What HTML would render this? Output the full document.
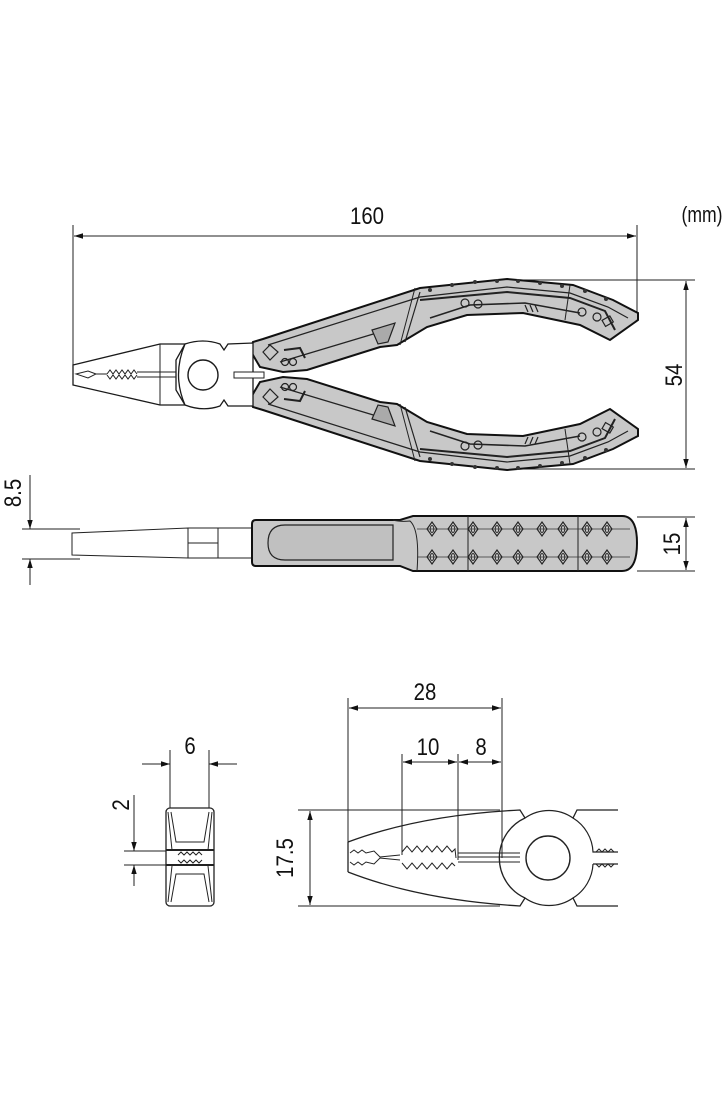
<!DOCTYPE html>
<html><head><meta charset="utf-8"><style>
html,body{margin:0;padding:0;background:#fff}
svg{display:block}
text{font-family:"Liberation Sans",sans-serif;fill:#111}
</style></head><body>
<svg width="728" height="1110" viewBox="0 0 728 1110" xmlns="http://www.w3.org/2000/svg">
<defs>
<marker id="a" viewBox="0 0 10 10" refX="10" refY="5" markerWidth="9" markerHeight="9" orient="auto-start-reverse" markerUnits="userSpaceOnUse"><path d="M0,2 L10,5 L0,8 z" fill="#111"/></marker>
<g id="dia"><path d="M-5,0 L0,-7 L5,0 L0,7 Z" fill="none" stroke="#222" stroke-width="1.1"/><ellipse cx="0" cy="0" rx="1.8" ry="3.5" fill="none" stroke="#222" stroke-width="0.9"/></g>
<g id="hand">
<path d="M253,342 L263,339 L420,288 L507,279 L573,285 L613,300 L638,313 L638,320 L610,340 L580,325 L523,313 L467,315 L427,327 L397,345 L380,347 L307,370 L283,372 L260,367 L250,350 Z" fill="#c8c8c8" stroke="#111" stroke-width="2"/>
<path d="M268,345 L420,297 L507,287 L570,293 L608,307 L628,318" fill="none" stroke="#222" stroke-width="1.2"/>
<path d="M420,300 L507,292 L570,298 L605,311 L615,330" fill="none" stroke="#222" stroke-width="2"/>
<path d="M430,318 L470,305 L525,303 L580,313" fill="none" stroke="#222" stroke-width="1.6"/>
<path d="M280,362 L380,332" fill="none" stroke="#222" stroke-width="1.2"/>
<path d="M372,330 L395,323 L388,342 L378,344 Z" fill="#aaa" stroke="#222" stroke-width="1.2"/>
<line x1="415" y1="288" x2="400" y2="345" stroke="#222" stroke-width="1"/>
<line x1="420" y1="292" x2="405" y2="342" stroke="#222" stroke-width="1.2"/>
<line x1="570" y1="285" x2="565" y2="320" stroke="#222" stroke-width="1"/>
<path d="M263,352 L270,345 L278,352 L270,360 Z" fill="none" stroke="#222" stroke-width="1.2"/>
<circle cx="285" cy="362" r="3.5" fill="none" stroke="#222" stroke-width="1.2"/><circle cx="293" cy="362" r="3.5" fill="none" stroke="#222" stroke-width="1.2"/>
<path d="M284,350 L300,348 L305,358" fill="none" stroke="#222" stroke-width="2"/>
<circle cx="465" cy="303" r="4" fill="none" stroke="#222" stroke-width="1.2"/><circle cx="478" cy="304" r="4" fill="none" stroke="#222" stroke-width="1.2"/>
<circle cx="582" cy="312" r="4" fill="none" stroke="#222" stroke-width="1.2"/><circle cx="597" cy="317" r="4" fill="none" stroke="#222" stroke-width="1.2"/>
<rect x="603" y="318" width="9" height="7" fill="none" stroke="#222" stroke-width="1.2" transform="rotate(-30 607 321)"/>
<path d="M525,305 L528,312 M530,305 L533,312 M535,305 L538,312" stroke="#222" stroke-width="1.2"/>
<g fill="#333"><circle cx="430" cy="290" r="2"/><circle cx="452" cy="285" r="2"/><circle cx="475" cy="282" r="2"/><circle cx="497" cy="281" r="2"/><circle cx="518" cy="281" r="2"/><circle cx="540" cy="283" r="2"/><circle cx="562" cy="286" r="2"/><circle cx="585" cy="291" r="2"/><circle cx="606" cy="299" r="2"/></g>
</g>
</defs>

<!-- 160 dimension -->
<text transform="translate(367,224) scale(0.85,1)" font-size="24" text-anchor="middle">160</text>
<text transform="translate(702,222) scale(0.8,1)" font-size="22" text-anchor="middle">(mm)</text>
<line x1="73" y1="225" x2="73" y2="376" stroke="#222"/>
<line x1="637" y1="225" x2="637" y2="318" stroke="#222"/>
<line x1="74" y1="236" x2="636" y2="236" stroke="#222" marker-start="url(#a)" marker-end="url(#a)"/>
<!-- 54 -->
<line x1="500" y1="280" x2="695" y2="280" stroke="#222"/>
<line x1="500" y1="469" x2="695" y2="469" stroke="#222"/>
<line x1="686" y1="281" x2="686" y2="468" stroke="#222" marker-start="url(#a)" marker-end="url(#a)"/>
<text transform="translate(682,375) rotate(-90) scale(0.85,1)" font-size="24" text-anchor="middle">54</text>

<!-- top view pliers -->
<use href="#hand"/>
<use href="#hand" transform="translate(0,749) scale(1,-1)"/>
<g fill="#fff" stroke="#1a1a1a" stroke-width="1.3">
<path d="M73,365 L160,344 L185,344 L176,360 L176,390 L185,405 L160,405 L73,385 Z"/>
<path d="M185,344 Q203,338 220,344 L224,350 L228,344 L253,343 L253,406 L228,406 L224,400 L220,406 Q203,412 185,405 Q172,375 185,344 Z"/>
</g>
<line x1="160" y1="344" x2="160" y2="405" stroke="#222"/>
<circle cx="203" cy="375" r="15" fill="#fff" stroke="#1a1a1a" stroke-width="1.4"/>
<path d="M76,374 L88,371 L96,374 L88,378 Z M96,374 L107,374" fill="none" stroke="#222"/>
<path d="M107,374 l3,-4 l3,4 l3,-4 l3,4 l3,-4 l3,4 l3,-4 l3,4 l3,-4 l3,4 M107,375 l3,4 l3,-4 l3,4 l3,-4 l3,4 l3,-4 l3,4 l3,-4 l3,4 l3,-4" fill="none" stroke="#222"/>
<path d="M137,372 L176,372 M137,377 L176,377" stroke="#222"/>
<rect x="234" y="372" width="30" height="6" fill="#fff" stroke="#222"/>

<!-- side view -->
<text transform="translate(21,493) rotate(-90) scale(0.85,1)" font-size="24" text-anchor="middle">8.5</text>
<line x1="30" y1="475" x2="30" y2="529" stroke="#222" marker-end="url(#a)"/>
<line x1="30" y1="585" x2="30" y2="559" stroke="#222" marker-end="url(#a)"/>
<line x1="22" y1="529" x2="80" y2="529" stroke="#222"/>
<line x1="22" y1="559" x2="80" y2="559" stroke="#222"/>
<path d="M72,533 L72,555 L188,558 L188,528 Z" fill="#fff" stroke="#222"/>
<rect x="188" y="528" width="30" height="30" fill="#fff" stroke="#222"/>
<line x1="188" y1="543" x2="218" y2="543" stroke="#222"/>
<line x1="218" y1="528" x2="252" y2="528" stroke="#222"/>
<line x1="218" y1="558" x2="252" y2="558" stroke="#222"/>
<path d="M252,524 Q252,520 256,520 L400,520 L413,516 L622,516 Q637,516 637,543 Q637,571 622,571 L413,571 L400,566 L256,566 Q252,566 252,562 Z" fill="#c8c8c8" stroke="#111" stroke-width="2"/>
<path d="M285,525 L393,525 L393,560 L285,560 Q268,560 268,543 Q268,525 285,525 Z" fill="#c0c0c0" stroke="#222" stroke-width="1.2"/>
<path d="M393,520 Q400,522 410,521 Q420,530 417,571" fill="none" stroke="#222"/>
<line x1="468" y1="516" x2="468" y2="571" stroke="#222"/>
<line x1="578" y1="516" x2="578" y2="571" stroke="#222"/>
<line x1="417" y1="529" x2="630" y2="529" stroke="#333" stroke-width="0.8"/>
<line x1="417" y1="557" x2="630" y2="557" stroke="#333" stroke-width="0.8"/>
<g>
<use href="#dia" x="432" y="529"/><use href="#dia" x="453" y="529"/><use href="#dia" x="473" y="529"/><use href="#dia" x="497" y="529"/><use href="#dia" x="518" y="529"/><use href="#dia" x="542" y="529"/><use href="#dia" x="563" y="529"/><use href="#dia" x="587" y="529"/><use href="#dia" x="607" y="529"/>
<use href="#dia" x="432" y="557"/><use href="#dia" x="453" y="557"/><use href="#dia" x="473" y="557"/><use href="#dia" x="497" y="557"/><use href="#dia" x="518" y="557"/><use href="#dia" x="542" y="557"/><use href="#dia" x="563" y="557"/><use href="#dia" x="587" y="557"/><use href="#dia" x="607" y="557"/>
</g>
<line x1="637" y1="517" x2="695" y2="517" stroke="#222"/>
<line x1="637" y1="571" x2="695" y2="571" stroke="#222"/>
<line x1="686" y1="518" x2="686" y2="570" stroke="#222" marker-start="url(#a)" marker-end="url(#a)"/>
<text transform="translate(680,544) rotate(-90) scale(0.85,1)" font-size="24" text-anchor="middle">15</text>

<!-- end view -->
<text transform="translate(190,754) scale(0.85,1)" font-size="24" text-anchor="middle">6</text>
<line x1="170" y1="750" x2="170" y2="812" stroke="#222"/>
<line x1="209" y1="750" x2="209" y2="812" stroke="#222"/>
<line x1="142" y1="764" x2="170" y2="764" stroke="#222" marker-end="url(#a)"/>
<line x1="237" y1="764" x2="209" y2="764" stroke="#222" marker-end="url(#a)"/>
<rect x="166" y="808" width="48" height="98" rx="4" fill="#fff" stroke="#222" stroke-width="1.3"/>
<path d="M171,812 L176,842 L204,842 L209,812 M171,902 L176,874 L204,874 L209,902 M168,812 L172,850 M212,812 L208,850 M168,902 L172,866 M212,902 L208,866" fill="none" stroke="#222"/>
<path d="M166,850 L214,850 M166,865 L214,865" stroke="#222" stroke-width="2"/>
<path d="M178,855 l3,-3 l3,3 l3,-3 l3,3 l3,-3 l3,3 l3,-3 l3,3 M178,860 l3,3 l3,-3 l3,3 l3,-3 l3,3 l3,-3 l3,3 l3,-3" fill="none" stroke="#222"/>
<text transform="translate(129,805) rotate(-90) scale(0.85,1)" font-size="24" text-anchor="middle">2</text>
<line x1="124" y1="851" x2="166" y2="851" stroke="#222"/>
<line x1="124" y1="865" x2="166" y2="865" stroke="#222"/>
<line x1="134" y1="795" x2="134" y2="851" stroke="#222" marker-end="url(#a)"/>
<line x1="134" y1="886" x2="134" y2="865" stroke="#222" marker-end="url(#a)"/>

<!-- jaw side view -->
<text transform="translate(425,700) scale(0.85,1)" font-size="24" text-anchor="middle">28</text>
<text transform="translate(428,755) scale(0.85,1)" font-size="24" text-anchor="middle">10</text>
<text transform="translate(481,755) scale(0.85,1)" font-size="24" text-anchor="middle">8</text>
<line x1="348" y1="698" x2="348" y2="845" stroke="#222"/>
<line x1="502" y1="698" x2="502" y2="858" stroke="#222"/>
<line x1="402" y1="754" x2="402" y2="855" stroke="#222"/>
<line x1="458" y1="754" x2="458" y2="860" stroke="#222"/>
<line x1="349" y1="708" x2="501" y2="708" stroke="#222" marker-start="url(#a)" marker-end="url(#a)"/>
<line x1="403" y1="762" x2="457" y2="762" stroke="#222" marker-start="url(#a)" marker-end="url(#a)"/>
<line x1="459" y1="762" x2="501" y2="762" stroke="#222" marker-start="url(#a)" marker-end="url(#a)"/>
<line x1="298" y1="810" x2="500" y2="810" stroke="#222"/>
<line x1="298" y1="906" x2="500" y2="906" stroke="#222"/>
<line x1="310" y1="811" x2="310" y2="905" stroke="#222" marker-start="url(#a)" marker-end="url(#a)"/>
<text transform="translate(293,858) rotate(-90) scale(0.85,1)" font-size="24" text-anchor="middle">17.5</text>
<path d="M348,842 Q420,815 520,810 L525,818 A42,42 0 0 1 573,818 L577,810 L618,810" fill="none" stroke="#222" stroke-width="1.3"/>
<path d="M348,872 Q420,900 520,906 L525,898 A42,42 0 0 0 573,898 L577,906 L618,906" fill="none" stroke="#222" stroke-width="1.3"/>
<path d="M348,842 L348,872" stroke="#222" stroke-width="1.3"/>
<path d="M525,818 A44,44 0 0 0 525,898" fill="none" stroke="#222" stroke-width="1.3"/>
<path d="M573,818 A42,42 0 0 1 593,852 L618,852 M593,864 L618,864 M573,898 A42,42 0 0 0 593,864" fill="none" stroke="#222" stroke-width="1.2"/>
<path d="M596,852 l3,-3 l3,3 l3,-3 l3,3 l3,-3 l3,3 M596,864 l3,3 l3,-3 l3,3 l3,-3 l3,3 l3,-3" fill="none" stroke="#222"/>
<circle cx="548" cy="858" r="22" fill="#fff" stroke="#222" stroke-width="1.4"/>
<path d="M350,853 l4,-3 l4,3 l4,-3 l4,3 l8,-2 l6,6 L400,855 M350,862 l4,3 l4,-3 l4,3 l4,-3 l8,2 l6,-6 L400,860" fill="none" stroke="#222"/>
<path d="M402,852 l5,-6 l5,6 l5,-6 l5,6 l5,-6 l5,6 l5,-6 l5,6 l5,-6 l5,6 l3,-3 L456,858 M402,863 l5,6 l5,-6 l5,6 l5,-6 l5,6 l5,-6 l5,6 l5,-6 l5,6 l5,-6 l3,3" fill="none" stroke="#222"/>
<path d="M458,853 L520,853 M458,862 L520,862 M458,857 L520,857" stroke="#222"/>
</svg>
</body></html>
